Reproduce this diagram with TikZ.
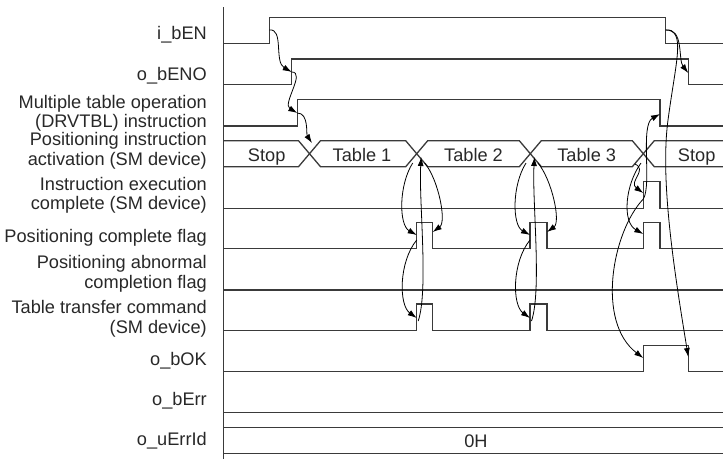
\documentclass[tikz,border=0pt]{standalone}
\usepackage{fontspec}
\setmainfont{Liberation Sans}
\usetikzlibrary{arrows.meta}
\definecolor{sigc}{RGB}{58,58,58}
\definecolor{txtc}{RGB}{40,40,40}
\begin{document}
\begin{tikzpicture}[x=1pt,y=-1pt,
  sig/.style={draw=sigc, line width=1.3pt, line join=miter},
  conn/.style={draw=black, line width=0.8pt, -{Latex[length=9pt,width=6pt]}},
  lbl/.style={font=\fontsize{18.2}{19.5}\selectfont, text=txtc, inner sep=0pt, align=right},
  val/.style={font=\fontsize{18.2}{19.5}\selectfont, text=txtc, inner sep=0pt, anchor=base}]
\useasboundingbox (0,0) rectangle (723,459);

% ---------- labels ----------
\node[lbl, anchor=base east] (l1) at (207,39.5) {i\_bEN};
\node[lbl, anchor=base east] (l2) at (207,80) {o\_bENO};
\node[lbl, anchor=east] (l3) at (207,113.1) {Multiple table operation\\(DRVTBL) instruction};
\node[lbl, anchor=east] (l4) at (207,150.6) {Positioning instruction\\activation (SM device)};
\node[lbl, anchor=east] (l5) at (207,195.5) {Instruction execution\\complete (SM device)};
\node[lbl, anchor=base east] (l6) at (207,242) {Positioning complete flag};
\node[lbl, anchor=east] (l7) at (207,273.6) {Positioning abnormal\\completion flag};
\node[lbl, anchor=east] (l8) at (207,318.6) {Table transfer command\\(SM device)};
\node[lbl, anchor=base east] (l9) at (207,365) {o\_bOK};
\node[lbl, anchor=base east] (l10) at (207,405) {o\_bErr};
\node[lbl, anchor=base east] (l11) at (207,445) {o\_uErrId};

% ---------- axis ----------
\draw[sig] (223.5,7) -- (223.5,459);

% ---------- signals ----------
\draw[sig] (223.5,43.3) -- (269.3,43.3) -- (269.3,17.7) -- (665.7,17.7) -- (665.7,43.3) -- (723,43.3);
\draw[sig] (223.5,84.7) -- (291.7,84.7) -- (291.7,59) -- (688.3,59) -- (688.3,84.7) -- (723,84.7);
\draw[sig] (223.5,126) -- (297.3,126) -- (297.3,99.3) -- (660,99.3) -- (660,126) -- (723,126);
% bus
\draw[sig] (223.5,140.7) -- (298.5,140.7) -- (320.5,166.7) -- (405.7,166.7) -- (427.7,140.7)
  -- (519.3,140.7) -- (541.3,166.7) -- (632.3,166.7) -- (654.3,140.7) -- (723,140.7);
\draw[sig] (223.5,166.7) -- (298.5,166.7) -- (320.5,140.7) -- (405.7,140.7) -- (427.7,166.7)
  -- (519.3,166.7) -- (541.3,140.7) -- (632.3,140.7) -- (654.3,166.7) -- (723,166.7);
\node[val] (s1) at (266.7,161.5) {Stop};
\node[val] (s2) at (362,161.5) {Table 1};
\node[val] (s3) at (473.5,161.5) {Table 2};
\node[val] (s4) at (586.7,161.5) {Table 3};
\node[val] (s5) at (696.7,161.5) {Stop};
% instruction execution complete
\draw[sig] (223.5,208.3) -- (643.3,208.3) -- (643.3,181.7) -- (660,181.7) -- (660,208.3) -- (723,208.3);
% positioning complete flag
\draw[sig] (223.5,248.3) -- (416.7,248.3) -- (416.7,222.7) -- (432.7,222.7) -- (432.7,248.3)
  -- (530,248.3) -- (530,222.7) -- (547,222.7) -- (547,248.3)
  -- (643.3,248.3) -- (643.3,222.7) -- (660,222.7) -- (660,248.3) -- (723,248.3);
% abnormal
\draw[sig] (223.5,290) -- (723,290);
% table transfer command
\draw[sig] (223.5,330.7) -- (416.7,330.7) -- (416.7,304) -- (432.7,304) -- (432.7,330.7)
  -- (530,330.7) -- (530,304) -- (547,304) -- (547,330.7) -- (723,330.7);
% o_bOK
\draw[sig] (223.5,371.7) -- (643.3,371.7) -- (643.3,345.3) -- (688.3,345.3) -- (688.3,371.7) -- (723,371.7);
% o_bErr
\draw[sig] (223.5,412.7) -- (723,412.7);
% o_uErrId
\draw[sig] (223.5,427.3) -- (723,427.3);
\draw[sig] (223.5,453.3) -- (723,453.3);
\node[val] (v0) at (476,447) {0H};

% ---------- connector points ----------
\coordinate (enR) at (269.3,30);
\coordinate (enF) at (665.7,30);
\coordinate (enoR) at (291.7,72);
\coordinate (enoF) at (688.3,73);
\coordinate (drvR) at (297.3,113);
\coordinate (drvF) at (660,114);
\coordinate (x1) at (312,143);
% crossing 2
\coordinate (x2a) at (412.7,163);
\coordinate (x2b) at (424.7,163);
\coordinate (x2c) at (421.2,157);
\coordinate (p2R) at (416.7,235);
\coordinate (p2F) at (432.7,232);
\coordinate (p2Rb) at (416.7,240);
\coordinate (t2R) at (416.7,318);
\coordinate (t2Rb) at (418.2,321);
% crossing 3
\coordinate (x3a) at (526,163);
\coordinate (x3b) at (538,163);
\coordinate (x3c) at (534.5,157);
\coordinate (p3R) at (530,235);
\coordinate (p3F) at (547,232);
\coordinate (p3Rb) at (530,240);
\coordinate (t3R) at (530,318);
\coordinate (t3Rb) at (531.5,321);
% crossing 4
\coordinate (x4a) at (635,164);
\coordinate (x4b) at (641,163);
\coordinate (iecR) at (643.3,193);
\coordinate (iecRb) at (643.3,199);
\coordinate (p4R) at (643.3,234);
\coordinate (okR) at (643.3,358);
\coordinate (okF) at (688.3,357);

% ---------- connectors ----------
\draw[conn] (enR) .. controls (284,28) and (274,62) .. (enoR);
\draw[conn] (enoR) .. controls (306,72) and (282,104) .. (drvR);
\draw[conn] (drvR) .. controls (309,113) and (306,134) .. (x1);

\draw[conn] (x2a) .. controls (398.7,185) and (398.7,225) .. (p2R);
\draw[conn] (x2b) .. controls (438.7,180) and (446.7,222) .. (p2F);
\draw[conn] (p2Rb) .. controls (398.7,262) and (398.7,305) .. (t2R);
\draw[conn] (t2Rb) .. controls (428.7,290) and (418.7,200) .. (x2c);

\draw[conn] (x3a) .. controls (512,185) and (512,225) .. (p3R);
\draw[conn] (x3b) .. controls (552,180) and (561,222) .. (p3F);
\draw[conn] (p3Rb) .. controls (512,262) and (512,305) .. (t3R);
\draw[conn] (t3Rb) .. controls (542,290) and (532,200) .. (x3c);

\draw[conn] (x4a) .. controls (648,170) and (628,182) .. (iecR);
\draw[conn] (x4b) .. controls (625,185) and (622,222) .. (p4R);
\draw[conn] (iecRb) .. controls (652,185) and (640,125) .. (drvF);
\draw[conn] (iecRb) .. controls (612,232) and (596,322) .. (okR);

\draw[conn] (enF) .. controls (684,28) and (678,60) .. (enoF);
\draw[conn] (enF) .. controls (686,30) and (676,60) .. (668,120) .. controls (660,180) and (674,270) .. (okF);
\end{tikzpicture}
\end{document}
